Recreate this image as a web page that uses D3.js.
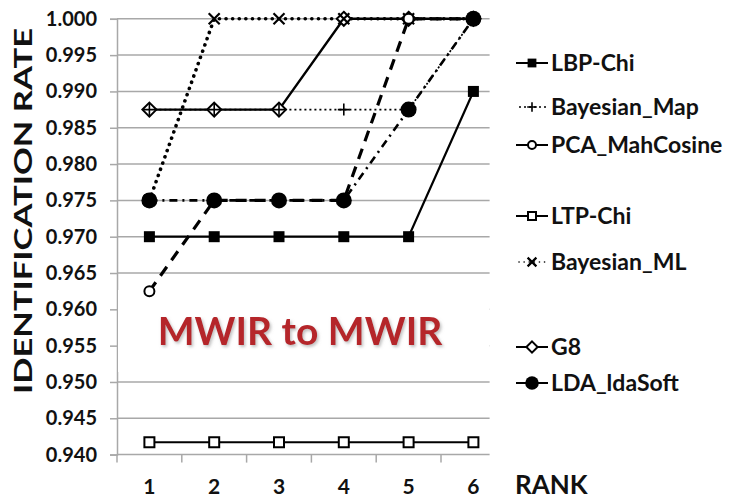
<!DOCTYPE html>
<html>
<head>
<meta charset="utf-8">
<script src="https://cdn.jsdelivr.net/npm/d3@7"></script>
<style>
  html, body { margin: 0; padding: 0; background: #fff; }
  svg { display: block; }
  text { font-family: Lato, "Open Sans", sans-serif; font-weight: 700; fill: #111; }
</style>
</head>
<body>
<svg id="chart" width="735" height="499"></svg>
<script>
// ---- data ----
const ranks = [1, 2, 3, 4, 5, 6];
const yTicks = [0.940, 0.945, 0.950, 0.955, 0.960, 0.965, 0.970, 0.975, 0.980, 0.985, 0.990, 0.995, 1.000];
const seriesNames = ["LBP-Chi", "Bayesian_Map", "PCA_MahCosine", "LTP-Chi", "Bayesian_ML", "G8", "LDA_ldaSoft"];
const lbpChi       = [0.970, 0.970, 0.970, 0.970, 0.970, 0.990];
const bayesianMap  = [0.9875, 0.9875, 0.9875, 0.9875, 0.9875, 1.000];
const pcaMahCosine = [0.9625, 0.975, 0.975, 0.975, 1.000, 1.000];
const ltpChi       = [0.9417, 0.9417, 0.9417, 0.9417, 0.9417, 0.9417];
const bayesianML   = [0.975, 1.000, 1.000, 1.000, 1.000, 1.000];
const g8           = [0.9875, 0.9875, 0.9875, 1.000, 1.000, 1.000];
const ldaSoft      = [0.975, 0.975, 0.975, 0.975, 0.9875, 1.000];
const titleText = "MWIR to MWIR";
const yLabel = "IDENTIFICATION RATE";
const xLabel = "RANK";

// ---- layout / style ----
const svg = d3.select("#chart");
const x = d3.scaleLinear().domain([0.5, 6.5]).range([117, 505.8]);
const y = d3.scaleLinear().domain([0.940, 1.000]).range([454.6, 18.8]);
const xEnd = x(6.25);
const gridColor = "#a8a8a8";

const styles = {
  "LBP-Chi":       { dash: null, width: 2.2, marker: "fsquare" },
  "Bayesian_Map":  { dash: "2,3", width: 1.7, marker: "plus", legendDash: "2,3" },
  "PCA_MahCosine": { dash: "11,8", width: 3.2, marker: "ocircle" },
  "LTP-Chi":       { dash: null, width: 2.2, marker: "osquare" },
  "Bayesian_ML":   { dash: "0.1,6.5", width: 3.6, cap: "round", marker: "cross", legendDash: "0.1,5" },
  "G8":            { dash: null, width: 2.4, marker: "diamond" },
  "LDA_ldaSoft":   { dash: "8,5,2,5", width: 2.6, marker: "fcircle" }
};
const valuesByName = {
  "LBP-Chi": lbpChi, "Bayesian_Map": bayesianMap, "PCA_MahCosine": pcaMahCosine,
  "LTP-Chi": ltpChi, "Bayesian_ML": bayesianML, "G8": g8, "LDA_ldaSoft": ldaSoft
};

// gridlines
svg.append("g").selectAll("line").data(yTicks.slice(1)).join("line")
  .attr("x1", x(0.5)).attr("x2", xEnd)
  .attr("y1", d => y(d)).attr("y2", d => y(d))
  .attr("stroke", gridColor).attr("stroke-width", 1.5);

// left axis
const yAxis = d3.axisLeft(y).tickValues(yTicks).tickFormat(d3.format(".3f")).tickSize(7).tickPadding(13);
const gy = svg.append("g").attr("transform", `translate(${x(0.5)},0)`).call(yAxis);
gy.select(".domain").attr("stroke", gridColor).attr("stroke-width", 1.5);
gy.selectAll(".tick line").attr("stroke", gridColor).attr("stroke-width", 1.5);
gy.selectAll(".tick text").style("font-size", "20px").attr("fill", "#111");

// bottom axis
const gx = svg.append("g").attr("transform", `translate(0,${y(0.940)})`);
gx.append("line").attr("x1", x(0.5)).attr("x2", xEnd).attr("stroke", gridColor).attr("stroke-width", 1.5);
gx.selectAll("line.tk").data(ranks.map(r => r - 0.5)).join("line").attr("class", "tk")
  .attr("x1", d => x(d)).attr("x2", d => x(d)).attr("y1", 0).attr("y2", 8)
  .attr("stroke", gridColor).attr("stroke-width", 1.5);
gx.selectAll("text").data(ranks).join("text")
  .attr("x", d => x(d)).attr("y", 39).attr("text-anchor", "middle")
  .style("font-size", "21px").text(d => d);

// white box behind title
svg.append("rect").attr("x", x(0.5) + 1).attr("y", 290).attr("width", xEnd - x(0.5) - 1).attr("height", 82).attr("fill", "#fff");

// title
const defs = svg.append("defs");
const f = defs.append("filter").attr("id", "sh").attr("x", "-10%").attr("y", "-20%").attr("width", "130%").attr("height", "160%");
f.append("feDropShadow").attr("dx", 1.5).attr("dy", 2).attr("stdDeviation", 1.5).attr("flood-color", "#888").attr("flood-opacity", 0.55);
svg.append("text").attr("x", 300).attr("y", 345).attr("text-anchor", "middle")
  .style("font-size", "39px").attr("fill", "#b5262c").style("fill", "#b5262c")
  .attr("filter", "url(#sh)").text(titleText);

// axis titles
svg.append("text").attr("transform", "translate(32,211) rotate(-90)").attr("text-anchor", "middle")
  .style("font-size", "25px").attr("textLength", 366).attr("lengthAdjust", "spacingAndGlyphs").text(yLabel);
svg.append("text").attr("x", 515).attr("y", 494).style("font-size", "26px").text(xLabel);

// markers
function drawMarker(g, type, cx, cy, scale = 1) {
  const s = scale;
  if (type === "fsquare") g.append("rect").attr("x", cx - 5.5 * s).attr("y", cy - 5.5 * s).attr("width", 11 * s).attr("height", 11 * s).attr("fill", "#000");
  else if (type === "osquare") g.append("rect").attr("x", cx - 5 * s).attr("y", cy - 5 * s).attr("width", 10 * s).attr("height", 10 * s).attr("fill", "#fff").attr("stroke", "#000").attr("stroke-width", 2);
  else if (type === "ocircle") g.append("circle").attr("cx", cx).attr("cy", cy).attr("r", 5 * s).attr("fill", "#fff").attr("stroke", "#000").attr("stroke-width", 2);
  else if (type === "fcircle") g.append("circle").attr("cx", cx).attr("cy", cy).attr("r", 8 * s).attr("fill", "#000");
  else if (type === "diamond") g.append("path").attr("d", `M${cx},${cy - 7 * s}L${cx + 7 * s},${cy}L${cx},${cy + 7 * s}L${cx - 7 * s},${cy}Z`).attr("fill", "#fff").attr("stroke", "#000").attr("stroke-width", 2);
  else if (type === "plus") g.append("path").attr("d", `M${cx - 6 * s},${cy}H${cx + 6 * s}M${cx},${cy - 6 * s}V${cy + 6 * s}`).attr("stroke", "#000").attr("stroke-width", 1.6);
  else if (type === "cross") g.append("path").attr("d", `M${cx - 5.5 * s},${cy - 5.5 * s}L${cx + 5.5 * s},${cy + 5.5 * s}M${cx + 5.5 * s},${cy - 5.5 * s}L${cx - 5.5 * s},${cy + 5.5 * s}`).attr("stroke", "#000").attr("stroke-width", 2.2);
}

const line = d3.line().x((d, i) => x(ranks[i])).y(d => y(d));
const drawOrder = ["LTP-Chi", "LBP-Chi", "Bayesian_ML", "Bayesian_Map", "LDA_ldaSoft", "PCA_MahCosine", "G8"];
const gLines = svg.append("g");
drawOrder.forEach(name => {
  const st = styles[name];
  gLines.append("path").datum(valuesByName[name]).attr("d", line)
    .attr("fill", "none").attr("stroke", "#000").attr("stroke-width", st.width)
    .attr("stroke-dasharray", st.dash).attr("stroke-linecap", st.cap || "butt");
});
const markerOrder = ["LTP-Chi", "LBP-Chi", "G8", "Bayesian_ML", "PCA_MahCosine", "LDA_ldaSoft", "Bayesian_Map"];
const gMarks = svg.append("g");
markerOrder.forEach(name => {
  valuesByName[name].forEach((v, i) => drawMarker(gMarks, styles[name].marker, x(ranks[i]), y(v)));
});

// legend
const legendY = [63, 107, 145, 216, 262, 347, 383];
const gl = svg.append("g");
seriesNames.forEach((name, i) => {
  const st = styles[name];
  const ly = legendY[i];
  const dotted = st.legendDash != null;
  gl.append("line").attr("x1", dotted ? 519 : 516).attr("x2", 548).attr("y1", ly).attr("y2", ly)
    .attr("stroke", "#000").attr("stroke-width", dotted ? 1.6 : 2)
    .attr("stroke-dasharray", st.legendDash || null).attr("stroke-linecap", name === "Bayesian_ML" ? "round" : "butt");
  drawMarker(gl, st.marker, 532, ly, name === "LDA_ldaSoft" ? 0.85 : 0.8);
  gl.append("text").attr("x", 551).attr("y", ly + 8).style("font-size", "23px").text(name);
});
</script>
</body>
</html>
